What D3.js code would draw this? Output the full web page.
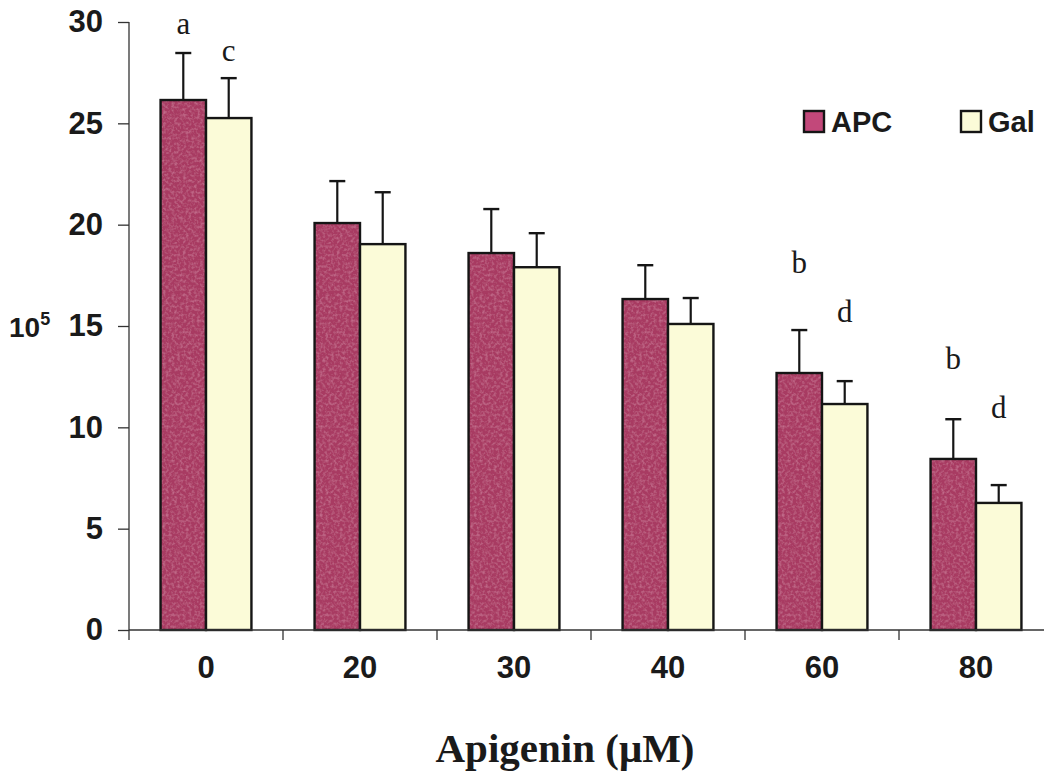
<!DOCTYPE html>
<html>
<head>
<meta charset="utf-8">
<script src="https://cdn.jsdelivr.net/npm/d3@7"></script>
<style>
  body { margin: 0; background: #fff; }
  text { fill: #1a1a1a; }
</style>
</head>
<body>
<script>
  const doses = ['0', '20', '30', '40', '60', '80'];
  const apc = [26.15, 20.08, 18.6, 16.33, 12.68, 8.44];
  const apcErr = [2.32, 2.07, 2.17, 1.67, 2.12, 1.96];
  const gal = [25.26, 19.04, 17.9, 15.1, 11.15, 6.27];
  const galErr = [1.97, 2.56, 1.68, 1.28, 1.13, 0.88];
  const yTicks = [0, 5, 10, 15, 20, 25, 30];

  // significance letters: [dose, series, letter, height]
  const marks = [
    ['0', 0, 'a', 29.4],
    ['0', 1, 'c', 28.1],
    ['60', 0, 'b', 17.6],
    ['60', 1, 'd', 15.2],
    ['80', 0, 'b', 12.87],
    ['80', 1, 'd', 10.45]
  ];

  const series = [
    { name: 'APC', values: apc, err: apcErr, color: '#a83b62', texture: true },
    { name: 'Gal', values: gal, err: galErr, color: '#fbfbd8', texture: false }
  ];

  const width = 1044;
  const height = 775;
  const plotLeft = 129, plotTop = 22, plotBottom = 630;
  const sans = 'Liberation Sans, Arial, sans-serif';
  const serif = 'Liberation Serif, Times New Roman, serif';

  const svg = d3.select('body')
          .append('svg')
          .attr('width', width)
          .attr('height', height);

  // speckled texture for the APC bars
  const filter = svg.append('defs').append('filter')
          .attr('id', 'speckle')
          .attr('x', 0).attr('y', 0).attr('width', 1).attr('height', 1);
  filter.append('feTurbulence')
          .attr('type', 'fractalNoise')
          .attr('baseFrequency', 0.35)
          .attr('numOctaves', 2)
          .attr('seed', 3)
          .attr('result', 'noise');
  filter.append('feColorMatrix')
          .attr('in', 'noise')
          .attr('type', 'matrix')
          .attr('values', '0 0 0 0 0.82  0 0 0 0 0.35  0 0 0 0 0.52  0 0 0 0.75 -0.32')
          .attr('result', 'spots');
  filter.append('feComposite')
          .attr('in', 'spots')
          .attr('in2', 'SourceGraphic')
          .attr('operator', 'in')
          .attr('result', 'clipped');
  const merge = filter.append('feMerge');
  merge.append('feMergeNode').attr('in', 'SourceGraphic');
  merge.append('feMergeNode').attr('in', 'clipped');

  const x = d3.scaleBand()
          .domain(doses)
          .range([plotLeft, plotLeft + 154 * doses.length])
          .paddingInner(0)
          .paddingOuter(0);

  const inner = d3.scaleBand()
          .domain([0, 1])
          .range([x.bandwidth() * 0.205, x.bandwidth() * 0.795]);

  const y = d3.scaleLinear()
          .domain([0, 30])
          .range([plotBottom, plotTop]);

  // bars
  const groups = svg.append('g')
          .selectAll('g')
          .data(doses)
          .enter()
          .append('g')
          .attr('transform', d => `translate(${x(d)},0)`);

  series.forEach((s, si) => {
    groups.append('rect')
            .attr('x', inner(si))
            .attr('y', (d, i) => y(s.values[i]))
            .attr('width', inner.bandwidth())
            .attr('height', (d, i) => y(0) - y(s.values[i]))
            .attr('fill', s.color)
            .attr('filter', s.texture ? 'url(#speckle)' : null);

    groups.append('rect')
            .attr('x', inner(si))
            .attr('y', (d, i) => y(s.values[i]))
            .attr('width', inner.bandwidth())
            .attr('height', (d, i) => y(0) - y(s.values[i]))
            .attr('fill', 'none')
            .attr('stroke', '#151515')
            .attr('stroke-width', 2.4);

    groups.append('line')
            .attr('x1', inner(si) + inner.bandwidth() / 2)
            .attr('x2', inner(si) + inner.bandwidth() / 2)
            .attr('y1', (d, i) => y(s.values[i]))
            .attr('y2', (d, i) => y(s.values[i] + s.err[i]))
            .attr('stroke', '#151515')
            .attr('stroke-width', 2.2);

    groups.append('line')
            .attr('x1', inner(si) + inner.bandwidth() / 2 - 8)
            .attr('x2', inner(si) + inner.bandwidth() / 2 + 8)
            .attr('y1', (d, i) => y(s.values[i] + s.err[i]))
            .attr('y2', (d, i) => y(s.values[i] + s.err[i]))
            .attr('stroke', '#151515')
            .attr('stroke-width', 2.4);
  });

  // y axis
  const yAxis = svg.append('g')
          .attr('transform', `translate(${plotLeft},0)`)
          .call(d3.axisLeft(y).tickValues(yTicks).tickSize(11).tickPadding(15));
  yAxis.select('.domain').attr('d', `M0,${plotTop}V${plotBottom + 10}`).attr('stroke', '#333').attr('stroke-width', 1.3);
  yAxis.selectAll('.tick line').attr('stroke', '#333').attr('stroke-width', 1.3);
  yAxis.selectAll('.tick text')
          .attr('font-family', sans)
          .attr('font-weight', 'bold')
          .attr('font-size', 31)
          .attr('fill', '#1a1a1a');

  // x axis
  const xAxis = svg.append('g')
          .attr('transform', `translate(0,${plotBottom})`)
          .call(d3.axisBottom(x).tickSize(0).tickPadding(26));
  xAxis.select('.domain').attr('d', `M${plotLeft},0H${width}`).attr('stroke', '#333').attr('stroke-width', 1.3);
  xAxis.selectAll('.tick text')
          .attr('font-family', sans)
          .attr('font-weight', 'bold')
          .attr('font-size', 31)
          .attr('fill', '#1a1a1a');
  xAxis.append('g')
          .selectAll('line')
          .data(doses.slice(1))
          .enter()
          .append('line')
          .attr('x1', d => x(d))
          .attr('x2', d => x(d))
          .attr('y1', 0)
          .attr('y2', 10)
          .attr('stroke', '#333')
          .attr('stroke-width', 1.3);

  // significance letters
  svg.append('g')
          .selectAll('text')
          .data(marks)
          .enter()
          .append('text')
          .attr('x', d => x(d[0]) + inner(d[1]) + inner.bandwidth() / 2)
          .attr('y', d => y(d[3]))
          .attr('text-anchor', 'middle')
          .attr('font-family', serif)
          .attr('font-size', 31)
          .text(d => d[2]);

  // y label
  const yl = svg.append('text')
          .attr('x', 9)
          .attr('y', y(15) + 11)
          .attr('font-family', sans)
          .attr('font-weight', 'bold')
          .attr('font-size', 28);
  yl.append('tspan').text('10');
  yl.append('tspan').attr('dy', -12).attr('font-size', 18).text('5');

  // x title
  svg.append('text')
          .attr('x', 565)
          .attr('y', 762)
          .attr('text-anchor', 'middle')
          .attr('font-family', serif)
          .attr('font-weight', 'bold')
          .attr('font-size', 41)
          .text('Apigenin (\u03bcM)');

  // legend
  const legend = svg.append('g')
          .selectAll('g')
          .data(series)
          .enter()
          .append('g')
          .attr('transform', (d, i) => `translate(${804 + i * 157},111)`);
  legend.append('rect')
          .attr('width', 20)
          .attr('height', 21)
          .attr('fill', (d, i) => i === 0 ? '#c2487a' : d.color)
          .attr('stroke', '#151515')
          .attr('stroke-width', 2.4);
  legend.append('text')
          .attr('x', 27)
          .attr('y', 21)
          .attr('font-family', sans)
          .attr('font-weight', 'bold')
          .attr('font-size', 29)
          .text(d => d.name);
</script>
</body>
</html>
